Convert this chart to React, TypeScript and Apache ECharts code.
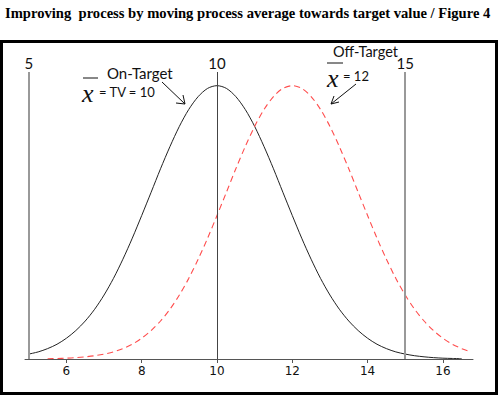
import React, { useEffect, useRef } from "react";
import * as echarts from "echarts";

const xValues = [
  5.0, 5.25, 5.5, 5.75, 6.0, 6.25, 6.5, 6.75, 7.0, 7.25, 7.5, 7.75, 8.0, 8.25, 8.5, 8.75,
  9.0, 9.25, 9.5, 9.75, 10.0, 10.25, 10.5, 10.75, 11.0, 11.25, 11.5, 11.75, 12.0, 12.25,
  12.5, 12.75, 13.0, 13.25, 13.5, 13.75, 14.0, 14.25, 14.5, 14.75, 15.0, 15.25, 15.5,
  15.75, 16.0, 16.25, 16.5, 16.75,
];
const onTarget = [
  1.8, 2.6, 3.8, 5.4, 7.6, 10.4, 13.9, 18.2, 23.4, 29.5, 36.5, 44.2, 52.5, 61.0, 69.6, 77.7,
  85.1, 91.3, 96.0, 99.0, 100, 99.0, 96.0, 91.3, 85.1, 77.7, 69.6, 61.0, 52.5, 44.2,
  36.5, 29.5, 23.4, 18.2, 13.9, 10.4, 7.6, 5.4, 3.8, 2.6, 1.8, 1.2, 0.8,
  0.5, 0.3, 0.2, 0.1, null,
];
const offTarget = [
  null, null, 0.1, 0.2, 0.3, 0.5, 0.8, 1.2, 1.8, 2.6, 3.8, 5.4, 7.6, 10.4, 13.9, 18.2,
  23.4, 29.5, 36.5, 44.2, 52.5, 61.0, 69.6, 77.7, 85.1, 91.3, 96.0, 99.0, 100, 99.0,
  96.0, 91.3, 85.1, 77.7, 69.6, 61.0, 52.5, 44.2, 36.5, 29.5, 23.4, 18.2, 13.9,
  10.4, 7.6, 5.4, 3.8, 2.6,
];
const tickValues = [6, 8, 10, 12, 14, 16];
const refLines = [5, 10, 15];
const titleText = "Improving  process by moving process average towards target value / Figure 4";

export default function App() {
  const ref = useRef<HTMLDivElement>(null);
  useEffect(() => {
    if (!ref.current) return;
    const chart = echarts.init(ref.current, null, { renderer: "svg" });
    const pairs = (ys: (number | null)[]) => xValues.map((x, i) => [x, ys[i]]);
    const labelFont = { fontFamily: "Lato", fontSize: 15, color: "#111" };
    chart.setOption({
      animation: false,
      backgroundColor: "#fff",
      grid: { left: 25, right: 27, top: 72, bottom: 38 },
      xAxis: {
        type: "value",
        min: 4.9,
        max: 16.8,
        splitLine: { show: false },
        axisLine: { lineStyle: { color: "#555", width: 1 } },
        axisTick: { show: true, customValues: tickValues, length: 4, lineStyle: { color: "#555" } },
        axisLabel: {
          customValues: tickValues,
          fontFamily: "DejaVu Sans",
          fontSize: 12,
          color: "#111",
          margin: 6,
        },
      },
      yAxis: { type: "value", min: 0, max: 105, show: false, splitLine: { show: false } },
      series: [
        {
          type: "line",
          data: pairs(onTarget),
          showSymbol: false,
          smooth: 0.3,
          lineStyle: { color: "#222", width: 1 },
          markLine: {
            silent: true,
            symbol: "none",
            data: refLines.map((v) => ({
              xAxis: v,
              lineStyle: v === 10 ? { color: "#444", width: 1, type: "solid" } : { color: "#999", width: 2, type: "solid" },
            })),
            label: { show: true, position: "end", formatter: (p: any) => String(p.value), ...labelFont, distance: 2 },
          },
        },
        {
          type: "line",
          data: pairs(offTarget),
          showSymbol: false,
          smooth: 0.3,
          connectNulls: false,
          lineStyle: { color: "#ff4d4d", width: 1.1, type: [6, 4] },
        },
      ],
      graphic: [
        { type: "text", x: 5, y: 13, style: { text: titleText, font: "bold 14.6px 'Liberation Serif'", fill: "#000", verticalAlign: "middle" } },
        { type: "rect", shape: { x: 1.5, y: 41.5, width: 495, height: 352 }, style: { fill: "none", stroke: "#000", lineWidth: 3 } },
        // On-Target annotation
        { type: "text", x: 107, y: 73, style: { text: "On-Target", font: "15px Lato", fill: "#111", verticalAlign: "middle" } },
        { type: "line", shape: { x1: 83, y1: 78, x2: 98, y2: 78 }, style: { stroke: "#111", lineWidth: 1 } },
        { type: "text", x: 82, y: 93, style: { text: "x", font: "italic 26px 'Liberation Serif'", fill: "#111", verticalAlign: "middle" } },
        { type: "text", x: 99, y: 92, style: { text: "= TV = 10", font: "13px Lato", fill: "#111", verticalAlign: "middle" } },
        { type: "line", shape: { x1: 162, y1: 82, x2: 185, y2: 104 }, style: { stroke: "#111", lineWidth: 1 } },
        { type: "polyline", shape: { points: [[176, 103], [185, 104], [183, 95]] }, style: { stroke: "#111", lineWidth: 1, fill: "none" } },
        // Off-Target annotation
        { type: "text", x: 333, y: 51, style: { text: "Off-Target", font: "14.5px Lato", fill: "#111", verticalAlign: "middle" } },
        { type: "line", shape: { x1: 327, y1: 63, x2: 343, y2: 63 }, style: { stroke: "#111", lineWidth: 1 } },
        { type: "text", x: 327, y: 78, style: { text: "x", font: "italic 26px 'Liberation Serif'", fill: "#111", verticalAlign: "middle" } },
        { type: "text", x: 343, y: 76, style: { text: "= 12", font: "13px Lato", fill: "#111", verticalAlign: "middle" } },
        { type: "line", shape: { x1: 356, y1: 84, x2: 331, y2: 104 }, style: { stroke: "#111", lineWidth: 1 } },
        { type: "polyline", shape: { points: [[334, 96], [331, 104], [339, 102]] }, style: { stroke: "#111", lineWidth: 1, fill: "none" } },
      ],
    });
    return () => chart.dispose();
  }, []);
  return <div ref={ref} style={{ width: 500, height: 397, position: "absolute", left: 0, top: 0 }} />;
}
